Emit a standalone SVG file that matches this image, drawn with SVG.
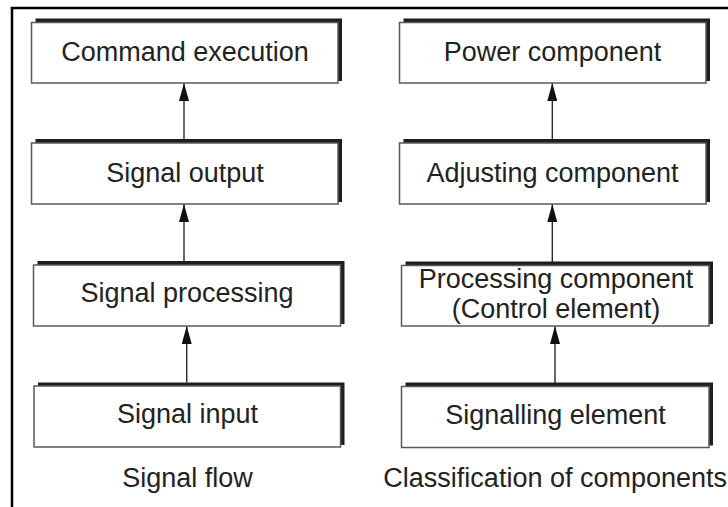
<svg xmlns="http://www.w3.org/2000/svg" width="728" height="507" viewBox="0 0 728 507">
<defs>
<style>
.shadow{fill:#1e1e1e}
.box{fill:#fff;stroke:#5a5a5a;stroke-width:1.5}
.t{font-family:"Liberation Sans",Arial,sans-serif;font-size:27px;fill:#222;text-anchor:middle}
.conn{stroke:#2a2a2a;stroke-width:1.4;fill:none;marker-end:url(#ah)}
</style>
<marker id="ah" markerUnits="userSpaceOnUse" markerWidth="18" markerHeight="10" refX="18" refY="5" orient="auto">
<path d="M0,0 L18,5 L0,10 z" fill="#111"/>
</marker>
</defs>
<rect width="728" height="507" fill="#fff"/>
<g id="frame" stroke="#000" stroke-width="2.5" fill="none">
<line x1="10.8" y1="8" x2="728" y2="8"/>
<line x1="12" y1="7" x2="12" y2="507"/>
</g>
<g id="connectors">
<line class="conn" x1="184" y1="139" x2="184" y2="83"/>
<line class="conn" x1="184" y1="261" x2="184" y2="204"/>
<line class="conn" x1="186.7" y1="382.5" x2="186.7" y2="326"/>
<line class="conn" x1="552.3" y1="139" x2="552.3" y2="83"/>
<line class="conn" x1="552.3" y1="262" x2="552.3" y2="204"/>
<line class="conn" x1="555" y1="383" x2="555" y2="326"/>
</g>
<g id="command-execution">
<rect class="shadow" x="35.5" y="18.5" width="306.5" height="62.5"/>
<rect class="box" x="31.5" y="22.5" width="306.5" height="60.5"/>
<text class="t" x="185" y="60.5">Command execution</text>
</g>
<g id="signal-output">
<rect class="shadow" x="35.5" y="139" width="306.5" height="63"/>
<rect class="box" x="31.5" y="143" width="306.5" height="61"/>
<text class="t" x="185" y="181.5">Signal output</text>
</g>
<g id="signal-processing">
<rect class="shadow" x="37.5" y="261" width="307" height="63"/>
<rect class="box" x="33.5" y="265" width="307" height="61"/>
<text class="t" x="187" y="302">Signal processing</text>
</g>
<g id="signal-input">
<rect class="shadow" x="38" y="382.5" width="306.5" height="62.5"/>
<rect class="box" x="34" y="386" width="306.5" height="61"/>
<text class="t" x="187.5" y="423">Signal input</text>
</g>
<g id="power-component">
<rect class="shadow" x="403.5" y="18.5" width="306.5" height="62.5"/>
<rect class="box" x="399.5" y="22.5" width="306.5" height="60.5"/>
<text class="t" x="552.5" y="60.5">Power component</text>
</g>
<g id="adjusting-component">
<rect class="shadow" x="403.5" y="139" width="306.5" height="63"/>
<rect class="box" x="399.5" y="143" width="306.5" height="61"/>
<text class="t" x="552.5" y="181.5">Adjusting component</text>
</g>
<g id="processing-component">
<rect class="shadow" x="405.5" y="261.5" width="307.5" height="62.5"/>
<rect class="box" x="401.5" y="265.5" width="307.5" height="60.5"/>
<text class="t" x="556" y="288">Processing component</text>
<text class="t" x="556" y="318">(Control element)</text>
</g>
<g id="signalling-element">
<rect class="shadow" x="405.5" y="382.5" width="307.5" height="63"/>
<rect class="box" x="401.5" y="386.5" width="307.5" height="61"/>
<text class="t" x="555.5" y="423.5">Signalling element</text>
</g>
<g id="captions">
<text class="t" x="187.5" y="486.5">Signal flow</text>
<text class="t" x="555.2" y="487">Classification of components</text>
</g>
</svg>
